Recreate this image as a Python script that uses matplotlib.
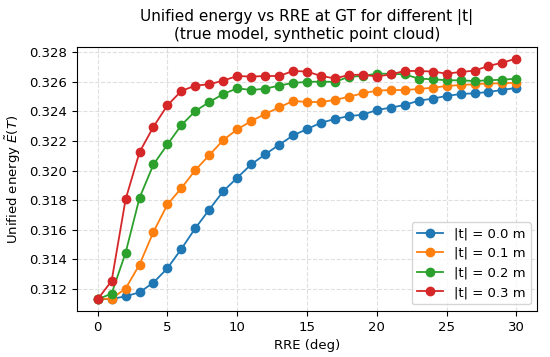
import matplotlib.pyplot as plt

# RRE angles (deg)
rre = list(range(31))

# Unified energy for each translation magnitude
e_t00 = [0.3113, 0.31132, 0.3115, 0.31177, 0.31243, 0.3134, 0.31471, 0.31611, 0.31737, 0.31861,
         0.31952, 0.32042, 0.3211, 0.32175, 0.32238, 0.32281, 0.32324, 0.32349, 0.32369, 0.32378,
         0.3241, 0.32426, 0.32444, 0.32473, 0.32487, 0.32505, 0.32518, 0.32523, 0.32532, 0.32546,
         0.32559]
e_t01 = [0.3113, 0.31135, 0.31202, 0.31365, 0.31586, 0.31771, 0.31882, 0.32004, 0.32105, 0.32207,
         0.32279, 0.32335, 0.32383, 0.32428, 0.32471, 0.32464, 0.32464, 0.32478, 0.325, 0.32523,
         0.32541, 0.32545, 0.32545, 0.32552, 0.32561, 0.32572, 0.32579, 0.32584, 0.3259, 0.3259,
         0.32595]
e_t02 = [0.3113, 0.31168, 0.31444, 0.31816, 0.32042, 0.32177, 0.32308, 0.32403, 0.32464, 0.32518,
         0.32557, 0.32545, 0.32554, 0.32575, 0.32593, 0.326, 0.32602, 0.326, 0.32635, 0.3264,
         0.32656, 0.32655, 0.32651, 0.32622, 0.32618, 0.32611, 0.32611, 0.32606, 0.32611, 0.32615,
         0.32622]
e_t03 = [0.3113, 0.31254, 0.31805, 0.32125, 0.32297, 0.32442, 0.32539, 0.32575, 0.32584, 0.32609,
         0.3264, 0.32636, 0.3264, 0.3264, 0.32674, 0.3267, 0.3264, 0.32624, 0.32647, 0.32649,
         0.32636, 0.32651, 0.32674, 0.32674, 0.3267, 0.32656, 0.32667, 0.32676, 0.32708, 0.3273,
         0.32758]

series = [(e_t00, '|t| = 0.0 m'), (e_t01, '|t| = 0.1 m'),
          (e_t02, '|t| = 0.2 m'), (e_t03, '|t| = 0.3 m')]

fig, ax = plt.subplots(figsize=(5.5, 3.57), dpi=100)
fig.subplots_adjust(left=0.1395, right=0.977, top=0.8675, bottom=0.129)

for vals, lab in series:
    ax.plot(rre, vals, marker='o', markersize=6, linewidth=1.3, label=lab)

ax.set_xlabel('RRE (deg)', fontsize=9.5)
ax.set_ylabel(r'Unified energy $\tilde{E}(T)$', fontsize=9.5)
ax.set_title('Unified energy vs RRE at GT for different |t|\n(true model, synthetic point cloud)',
             fontsize=11)
ax.tick_params(labelsize=9.5)
ax.set_yticks([0.312, 0.314, 0.316, 0.318, 0.320, 0.322, 0.324, 0.326, 0.328])
ax.set_ylim(0.31051, 0.32834)
ax.grid(True, linestyle='--', alpha=0.4)
ax.legend(loc='lower right', fontsize=9.5)

plt.savefig('out.png', dpi=100)
